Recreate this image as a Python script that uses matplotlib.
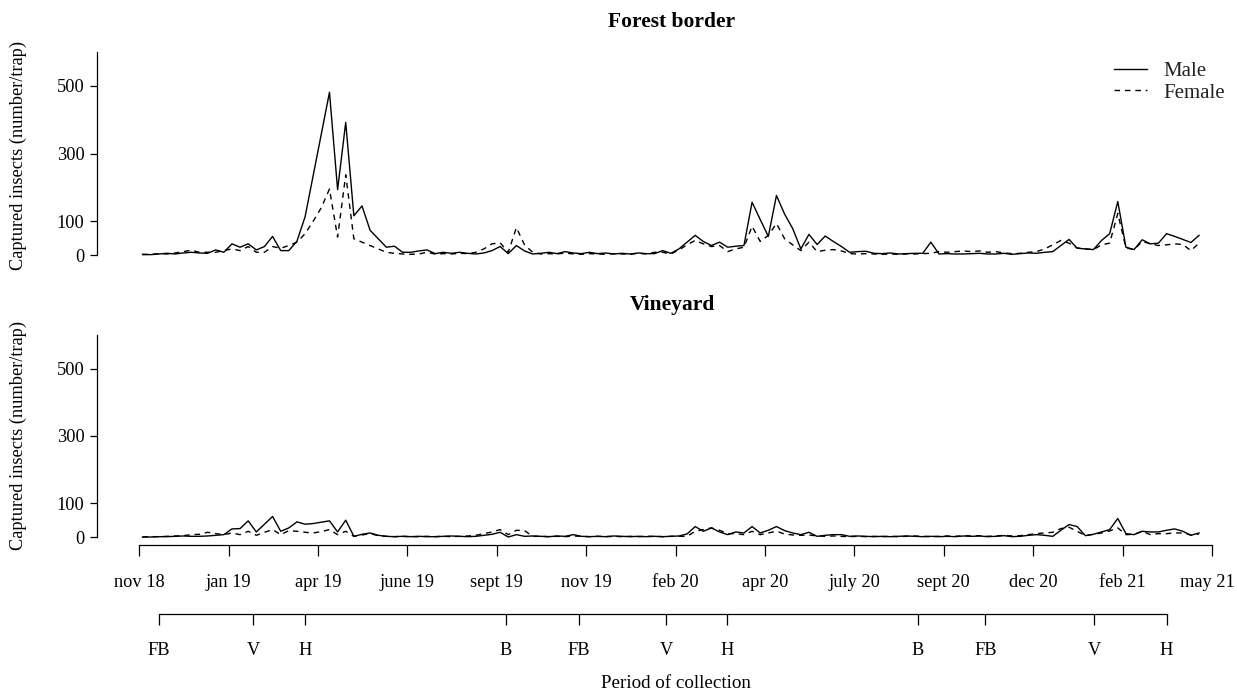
import numpy as np
import matplotlib
matplotlib.use("Agg")
import matplotlib.pyplot as plt
from matplotlib.transforms import ScaledTranslation

# ---------------- data (captured insects per trap, per collection) ----------------
forest_male = [
    2, 1, 3, 5, 3, 6, 8, 6, 5, 15,
    8, 33, 23, 33, 15, 25, 55, 13, 13, 41,
    113, 235, 358, 481, 193, 392, 116, 145, 73, 48,
    23, 26, 8, 8, 12, 15, 4, 8, 5, 8,
    5, 3, 6, 13, 25, 4, 28, 12, 3, 5,
    8, 4, 10, 6, 4, 8, 4, 6, 3, 5,
    3, 6, 4, 4, 13, 5, 18, 38, 58, 40,
    28, 38, 23, 26, 28, 156, 105, 55, 176, 121,
    78, 18, 61, 31, 56, 40, 25, 8, 10, 11,
    5, 4, 6, 3, 4, 5, 5, 38, 3, 4,
    3, 3, 4, 5, 3, 3, 5, 2, 4, 6,
    5, 8, 10, 28, 46, 20, 18, 16, 43, 63,
    158, 23, 16, 45, 33, 35, 63, 55, 46, 37,
    58]
forest_female = [
    1, 2, 4, 3, 6, 10, 14, 8, 8, 8,
    13, 18, 13, 25, 8, 8, 25, 20, 28, 38,
    63, 100, 140, 195, 53, 237, 48, 38, 28, 18,
    8, 5, 3, 2, 3, 8, 3, 4, 3, 5,
    4, 8, 18, 33, 36, 8, 81, 30, 8, 3,
    4, 3, 6, 3, 2, 4, 3, 2, 4, 3,
    2, 5, 3, 8, 8, 3, 15, 30, 43, 33,
    25, 28, 10, 18, 23, 85, 40, 58, 93, 48,
    30, 13, 38, 10, 14, 16, 12, 4, 3, 4,
    3, 2, 3, 2, 3, 3, 4, 5, 10, 8,
    10, 12, 10, 12, 8, 10, 6, 4, 5, 8,
    10, 18, 30, 43, 35, 21, 18, 16, 30, 35,
    123, 21, 16, 40, 33, 28, 30, 33, 31, 13,
    35]
vine_male = [
    0, 0, 1, 1, 2, 3, 2, 2, 3, 5,
    7, 24, 25, 48, 15, 38, 61, 17, 27, 45,
    38, 40, 44, 48, 15, 50, 2, 8, 12, 5,
    2, 1, 2, 1, 2, 1, 1, 2, 3, 2,
    1, 2, 5, 8, 14, 0, 7, 2, 3, 2,
    1, 3, 2, 7, 2, 1, 2, 1, 3, 2,
    1, 2, 1, 2, 1, 2, 3, 9, 31, 17,
    27, 15, 7, 15, 12, 31, 12, 20, 31, 19,
    12, 7, 14, 2, 5, 7, 7, 2, 3, 2,
    1, 2, 1, 2, 3, 2, 1, 2, 1, 2,
    1, 3, 2, 3, 1, 2, 4, 1, 2, 5,
    7, 5, 2, 20, 37, 31, 4, 8, 15, 22,
    55, 10, 7, 17, 15, 15, 20, 24, 17, 5,
    12]
vine_female = [
    0, 1, 1, 2, 3, 4, 7, 8, 14, 10,
    7, 12, 7, 17, 5, 14, 22, 7, 19, 17,
    14, 12, 16, 22, 7, 17, 2, 6, 10, 4,
    2, 1, 2, 1, 1, 2, 1, 2, 1, 2,
    3, 5, 10, 15, 22, 7, 20, 19, 2, 2,
    1, 2, 1, 3, 2, 1, 2, 1, 2, 1,
    2, 1, 2, 2, 1, 2, 2, 2, 17, 22,
    27, 20, 10, 10, 7, 17, 7, 12, 17, 9,
    6, 5, 6, 3, 2, 3, 2, 1, 2, 1,
    2, 1, 2, 1, 2, 3, 2, 1, 2, 3,
    2, 4, 3, 4, 2, 3, 5, 3, 4, 7,
    10, 12, 14, 25, 29, 17, 4, 8, 12, 18,
    27, 7, 8, 17, 7, 10, 10, 12, 12, 6,
    9]

month_labels = ["nov 18", "jan 19", "apr 19", "june 19", "sept 19", "nov 19",
                "feb 20", "apr 20", "july 20", "sept 20", "dec 20", "feb 21", "may 21"]
stage_labels = ["FB", "V", "H", "B", "FB", "V", "H", "B", "FB", "V", "H"]
stage_at = [2.0, 13.6, 20.0, 44.7, 53.7, 64.4, 71.9, 95.4, 103.7, 117.1, 126.0]
y_ticks = [0, 100, 300, 500]

# ---------------- styling ----------------
plt.rcParams["font.family"] = ["Liberation Serif", "DejaVu Serif"]
W, H = 1237, 691
fig = plt.figure(figsize=(W / 100, H / 100), dpi=100)

FS = 13.2
step = 11
month_ticks = np.arange(len(month_labels)) * step - 0.4
px0, pxs = 139.3, 8.127
def px2x(px):
    return (px - px0) / pxs - 0.4
xl = (px2x(97), px2x(1232))

def fxp(px):
    return px / W
def fyp(py):
    return 1 - py / H

x = np.arange(len(forest_male))
ax_w = fxp(1232) - fxp(97)

def style_y(ax):
    for s in ["top", "right", "bottom"]:
        ax.spines[s].set_visible(False)
    ax.spines["left"].set_bounds(0, 600)
    ax.spines["left"].set_linewidth(0.9)
    ax.set_yticks(y_ticks)
    ax.set_yticklabels([str(v) for v in y_ticks])
    ax.tick_params(axis="y", length=5, width=0.9, pad=4, labelsize=FS)
    ax.set_xlim(*xl)
    ax.patch.set_visible(False)

# top panel
ax1 = fig.add_axes([fxp(97), fyp(255), ax_w, (255 - 52) / H])
l1, = ax1.plot(x, forest_male, color="black", lw=1.0, clip_on=False)
l2, = ax1.plot(x, forest_female, color="black", lw=1.0, ls=(0, (4, 3.5)), clip_on=False)
ax1.set_ylim(0, 600)
style_y(ax1)
ax1.set_xticks([])
ax1.legend([l1, l2], ["Male", "Female"], loc="upper right",
           bbox_to_anchor=(fxp(1233), fyp(53)), bbox_transform=fig.transFigure,
           frameon=False, fontsize=15, handlelength=1.6, handletextpad=0.75,
           labelspacing=0.1, borderaxespad=0)
for t in ax1.get_legend().get_texts():
    t.set_color("#222222")

# bottom panel
ppu = (537 - 335) / 600.0
ax2 = fig.add_axes([fxp(97), fyp(545), ax_w, (545 - 335) / H])
ax2.plot(x, vine_male, color="black", lw=1.0)
ax2.plot(x, vine_female, color="black", lw=1.0, ls=(0, (4, 3.5)))
ax2.set_ylim(-8 / ppu, 600)
style_y(ax2)
ax2.spines["bottom"].set_visible(True)
ax2.spines["bottom"].set_bounds(month_ticks[0], month_ticks[-1])
ax2.spines["bottom"].set_linewidth(0.9)
ax2.set_xticks(month_ticks)
ax2.set_xticklabels(month_labels)
ax2.tick_params(axis="x", length=8, width=0.9, pad=13, labelsize=FS)
last = ax2.get_xticklabels()[-1]
last.set_transform(last.get_transform() + ScaledTranslation(-5 / 100, 0, fig.dpi_scale_trans))

# phenological stages axis
ax3 = fig.add_axes([fxp(97), fyp(614), ax_w, 0.0005])
ax3.set_xlim(*xl)
for s in ["top", "right", "left"]:
    ax3.spines[s].set_visible(False)
ax3.spines["bottom"].set_bounds(stage_at[0], stage_at[-1])
ax3.spines["bottom"].set_linewidth(0.9)
ax3.set_yticks([])
ax3.set_xticks(stage_at)
ax3.set_xticklabels(stage_labels)
ax3.tick_params(axis="x", length=8, width=0.9, pad=12, labelsize=FS)
ax3.patch.set_visible(False)

# texts
fig.text(fxp(672), fyp(22), "Forest border", ha="center", va="center",
         fontsize=15.5, fontweight="bold")
fig.text(fxp(672), fyp(305), "Vineyard", ha="center", va="center",
         fontsize=15.5, fontweight="bold")
fig.text(fxp(18), fyp(155), "Captured insects (number/trap)", rotation=90,
         ha="center", va="center", fontsize=FS)
fig.text(fxp(18), fyp(436), "Captured insects (number/trap)", rotation=90,
         ha="center", va="center", fontsize=FS)
fig.text(fxp(676), fyp(683), "Period of collection", ha="center", va="center",
         fontsize=FS + 0.5)

fig.savefig("out.png", dpi=100, facecolor="white")
